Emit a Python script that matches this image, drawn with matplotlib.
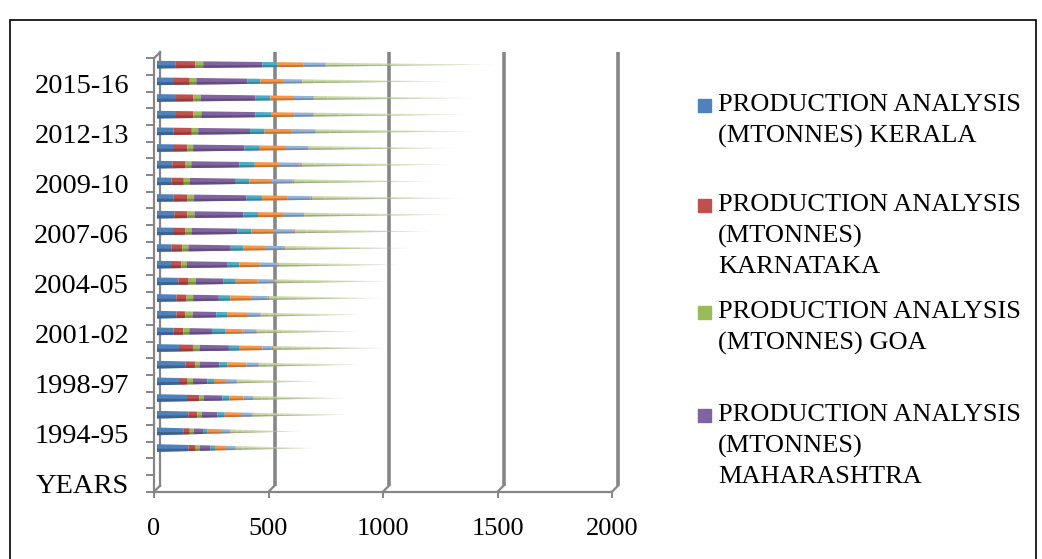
import matplotlib
matplotlib.use("Agg")
import matplotlib.pyplot as plt
from matplotlib.transforms import ScaledTranslation
from matplotlib.patches import Rectangle
from matplotlib.colors import to_rgb

# categories on the y axis (bottom to top); only every third one is labelled
years = ["YEARS", "", "1993-94", "1994-95", "1995-96", "1996-97", "1998-97",
         "1998-99", "1999-00", "2001-02", "2002-03", "2003-04", "2004-05",
         "2005-06", "2006-07", "2007-06", "2007-08", "2008-09", "2009-10",
         "2010-11", "2011-12", "2012-13", "2013-14", "2014-15", "2015-16",
         "2016-17"]
first_bar = 2  # "YEARS" and the blank row carry no data

# production values, 1993-94 .. 2016-17
kerala = [138, 115, 137, 131, 96, 125, 96, 73, 85, 85, 93, 61,
          64, 70, 76, 73, 63, 67, 70, 73, 79, 79, 70, 82]
karnataka = [31, 28, 39, 54, 35, 42, 61, 42, 39, 44, 45, 45,
             47, 53, 57, 60, 54, 58, 63, 79, 80, 79, 73, 86]
goa = [17, 17, 19, 19, 26, 19, 29, 26, 32, 29, 31, 25,
       26, 28, 31, 29, 26, 25, 25, 28, 35, 33, 29, 34]
maharashtra = [47, 41, 69, 82, 63, 86, 128, 99, 103, 112, 122, 175,
               185, 201, 213, 229, 201, 210, 224, 226, 236, 238, 222, 259]
gujarat = [20, 20, 32, 31, 29, 36, 44, 60, 47, 50, 53, 54,
           55, 60, 64, 68, 60, 67, 67, 64, 68, 67, 58, 66]
tamil_nadu = [48, 58, 71, 60, 52, 82, 102, 74, 87, 90, 96, 89,
              95, 100, 109, 112, 99, 106, 114, 119, 101, 102, 98, 114]
andhra = [42, 41, 50, 44, 48, 54, 41, 61, 60, 73, 70, 77,
          82, 86, 93, 99, 89, 90, 98, 103, 85, 87, 83, 96]
west_bengal = [2, 2, 2, 2, 2, 2, 6, 2, 2, 6, 6, 6,
               6, 6, 2, 7, 6, 10, 2, 2, 2, 2, 2, 2]
total = [348, 305, 413, 405, 352, 448, 501, 444, 437, 497, 509, 530,
         559, 587, 644, 653, 603, 646, 640, 700, 662, 693, 638, 732]

series = [kerala, karnataka, goa, maharashtra, gujarat, tamil_nadu,
          andhra, west_bengal, total]
names = ["PRODUCTION ANALYSIS\n(MTONNES) KERALA",
         "PRODUCTION ANALYSIS\n(MTONNES)\nKARNATAKA",
         "PRODUCTION ANALYSIS\n(MTONNES) GOA",
         "PRODUCTION ANALYSIS\n(MTONNES)\nMAHARASHTRA",
         "PRODUCTION ANALYSIS\n(MTONNES) GUJARAT",
         "PRODUCTION ANALYSIS\n(MTONNES) TAMIL NADU",
         "PRODUCTION ANALYSIS\n(MTONNES) ANDHRA PRADESH",
         "PRODUCTION ANALYSIS\n(MTONNES) WEST BENGAL",
         "PRODUCTION ANALYSIS\n(MTONNES) TOTAL"]
colors = ["#4F81BD", "#C0504D", "#9BBB59", "#8064A2", "#4BACC6",
          "#F79646", "#95B3D7", "#D99694", "#C3D69B"]
x_ticks = [0, 500, 1000, 1500, 2000]

plt.rcParams["font.family"] = ["Liberation Serif", "DejaVu Serif"]
W, H = 1042, 559
fig = plt.figure(figsize=(W / 100, H / 100), dpi=100)
ax = fig.add_axes([154 / W, 1 - 491.7 / H, (612 - 154) / W, (491.7 - 58.3) / H])
ax.set_xlim(0, 2000)
ax.set_ylim(-0.5, len(years) - 0.5)
for s in ax.spines.values():
    s.set_visible(False)


def shift(dx, dy):
    # pixel offset used to fake the 3D depth
    return ax.transData + ScaledTranslation(dx / 100, dy / 100, fig.dpi_scale_trans)


grey = "#868686"
top = len(years) - 0.5
# back wall grid lines
for v in x_ticks[1:]:
    ax.plot([v, v], [-0.5, top], color=grey, lw=2.6, transform=shift(6, 6),
            clip_on=False, solid_capstyle="butt", zorder=1)
# left wall
ax.plot([0, 0], [-0.5, top], color=grey, lw=1.6, clip_on=False, zorder=4)
ax.plot([0, 0], [-0.5, top], color=grey, lw=1.6, transform=shift(6, 6), clip_on=False, zorder=1)
# floor front edge and hooks to the wall
ax.plot([0, 2000], [-0.5, -0.5], color=grey, lw=1.6, clip_on=False, zorder=4)
for v in x_ticks:
    ax.plot([v, v + 6 * 2000 / 458], [-0.5, -0.5 + 6 / 16.67], color=grey, lw=1.6,
            clip_on=False, zorder=4)
ax.plot([0, 6 * 2000 / 458], [top, top + 6 / 16.67], color=grey, lw=1.6, clip_on=False, zorder=4)

# stacked cones
bar_h = 0.46
bar_tr = shift(3, 2)
for i in range(len(kerala)):
    pos = first_bar + i
    vals = [s[i] for s in series]
    full = sum(vals)

    def half(x):
        return bar_h / 2 * (1 - x / full)

    x0 = 0
    for j, v in enumerate(vals):
        x1 = x0 + v
        c = to_rgb(colors[j])
        dark = tuple(ch * 0.7 for ch in c)
        pieces = 12 if j == len(vals) - 1 else 1
        step = v / pieces
        for k in range(pieces):
            a = x0 + k * step
            b = a + step
            alpha = 1.0 if pieces == 1 else 0.95 - 0.72 * k / pieces
            ax.fill([a, b, b, a], [pos + half(a), pos + half(b), pos - half(b), pos - half(a)],
                    color=c, alpha=alpha, lw=0, transform=bar_tr, zorder=3)
            ax.fill([a, b, b, a],
                    [pos - 0.2 * half(a), pos - 0.2 * half(b), pos - half(b), pos - half(a)],
                    color=dark, alpha=alpha * 0.75, lw=0, transform=bar_tr, zorder=3)
        x0 = x1

# ticks
ax.set_xticks(x_ticks)
ax.set_xticklabels([str(v) for v in x_ticks], fontsize=19)
ax.tick_params(axis="x", length=4, width=1.4, color=grey, pad=15)
ax.set_yticks(range(0, len(years), 3))
ax.set_yticklabels(years[::3], fontsize=20.5)
ax.set_yticks([k - 0.5 for k in range(len(years) + 1)], minor=True)
ax.tick_params(axis="y", which="major", length=0, pad=18)
ax.tick_params(axis="y", which="minor", length=6, width=1.4, color=grey)

# legend (only the first four entries fit, as in the source)
entry_y = [105, 205, 312, 415]
for j in range(4):
    fig.patches.append(Rectangle((698 / W, 1 - (entry_y[j] + 7) / H), 13 / W, 13 / H,
                                 transform=fig.transFigure, color=colors[j]))
    for k, line in enumerate(names[j].split("\n")):
        fig.text(718 / W, 1 - (entry_y[j] + 31 * k) / H, line, fontsize=19,
                 va="center", ha="left")

# chart area border (bottom edge falls outside the picture)
fig.patches.append(Rectangle((10 / W, -10 / H), 1026 / W, (H - 10) / H, transform=fig.transFigure,
                             fill=False, edgecolor="black", lw=1.2))

fig.savefig("out.png", dpi=100)
